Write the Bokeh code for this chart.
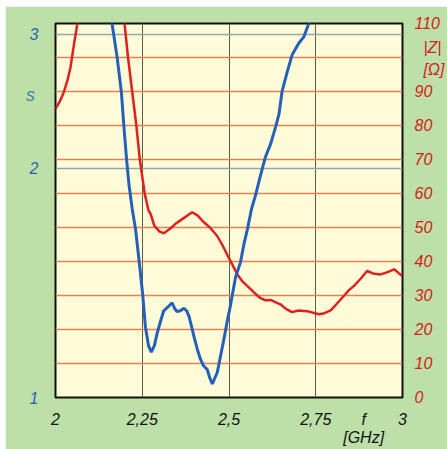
import numpy as np
from bokeh.plotting import figure
from bokeh.models import (Range1d, LinearScale, LinearAxis, FixedTicker, Grid,
                          Label, BasicTickFormatter)
from bokeh.embed import file_html
from bokeh.resources import INLINE

# ---- data ----
# standing wave ratio s (log axis, left)
f_s = [2.160, 2.163, 2.170, 2.178, 2.190, 2.197, 2.205, 2.212, 2.221, 2.231,
       2.241, 2.251, 2.259, 2.268, 2.276, 2.285, 2.293, 2.305, 2.312, 2.324,
       2.336, 2.343, 2.350, 2.360, 2.370, 2.378, 2.385, 2.392, 2.399, 2.408,
       2.418, 2.427, 2.437, 2.445, 2.452, 2.459, 2.466, 2.475, 2.485, 2.495,
       2.504, 2.519, 2.533, 2.543, 2.553, 2.565, 2.576, 2.591, 2.605, 2.620,
       2.634, 2.644, 2.653, 2.668, 2.682, 2.701, 2.716, 2.730, 2.735]
s_vals = [3.20, 3.10, 2.95, 2.79, 2.515, 2.275, 2.05, 1.90, 1.77, 1.66,
          1.51, 1.37, 1.24, 1.17, 1.147, 1.17, 1.215, 1.27, 1.30, 1.315,
          1.332, 1.31, 1.297, 1.30, 1.31, 1.30, 1.277, 1.24, 1.203, 1.16,
          1.122, 1.10, 1.089, 1.06, 1.042, 1.06, 1.078, 1.13, 1.191, 1.26,
          1.32, 1.44, 1.505, 1.59, 1.663, 1.77, 1.84, 1.96, 2.07, 2.154,
          2.264, 2.356, 2.525, 2.68, 2.82, 2.92, 2.98, 3.10, 3.20]

# impedance |Z| in ohm (linear axis, right); NaN = curve above the chart
f_z = [2.000, 2.012, 2.024, 2.035, 2.043, 2.053, 2.060, 2.066, 2.100,
       2.196, 2.199, 2.209, 2.221, 2.233, 2.243, 2.257, 2.268, 2.274, 2.285,
       2.300, 2.312, 2.331, 2.345, 2.360, 2.380, 2.394, 2.410, 2.427, 2.445,
       2.466, 2.480, 2.495, 2.510, 2.524, 2.540, 2.557, 2.572, 2.591, 2.605,
       2.620, 2.635, 2.648, 2.665, 2.682, 2.700, 2.725, 2.740, 2.759, 2.775,
       2.793, 2.810, 2.832, 2.845, 2.861, 2.880, 2.898, 2.915, 2.937, 2.955,
       2.976, 2.990, 3.000]
z_vals = [84.9, 87.0, 89.8, 93.5, 97.0, 103.7, 108.0, 112.0, float("nan"),
          113.0, 110.0, 100.0, 90.0, 80.0, 70.0, 60.0, 55.0, 54.0, 50.5,
          48.8, 48.3, 49.7, 51.0, 52.1, 53.5, 54.5, 53.5, 51.6, 50.0,
          47.5, 45.0, 42.0, 39.0, 36.2, 34.0, 32.4, 30.9, 29.2, 28.6,
          28.7, 28.0, 27.4, 26.0, 25.1, 25.6, 25.4, 25.0, 24.5, 24.8,
          25.6, 27.5, 30.0, 31.5, 32.9, 35.0, 37.2, 36.5, 36.2, 36.8,
          37.7, 36.5, 35.7]

x_ticks = [2, 2.25, 2.5, 2.75, 3]
x_labels = ["2", "2,25", "2,5", "2,75", "3"]
s_ticks = [1, 2, 3]
z_grid = [10, 20, 30, 40, 50, 60, 70, 80, 90, 100]
z_ticks = [0, 10, 20, 30, 40, 50, 60, 70, 80, 90, 110]

# axis titles
x_title = "f\n[GHz]"
z_title = "|Z|"
z_unit = "[Ω]"
s_title = "s"
# where the titles sit (data units of the respective axis)
x_title_at = 2.888
z_title_at = 102.9
z_unit_at = 96.4
s_title_at = (1.928, 2.50)

# ---- style ----
GREEN = "#bde0a8"
PAPER = "#fefcd8"
BLUE = "#2560b8"
RED = "#e0201c"
LBLUE = "#2a62b5"
LRED = "#d41c1c"
FONT = "Liberation Sans"
FS = "16px"
NB = "\u00a0"

p = figure(width=442, height=443, x_range=Range1d(2, 3),
           y_range=Range1d(1, 3.10), y_axis_type="log",
           output_backend="svg", toolbar_location=None,
           margin=(6, 0, 0, 5))
p.extra_y_ranges = {"z": Range1d(0, 110)}
p.extra_y_scales = {"z": LinearScale()}

p.min_border_left = 50
p.min_border_right = 45
p.min_border_top = 17
p.min_border_bottom = 47
p.background_fill_color = PAPER
p.border_fill_color = GREEN
p.outline_line_color = "#111111"
p.outline_line_width = 2

# bottom axis (with the f [GHz] title as an extra labelled position)
xa = p.xaxis[0]
xa.ticker = FixedTicker(ticks=x_ticks + [x_title_at])
ov = {t: l for t, l in zip(x_ticks, x_labels)}
ov[x_title_at] = x_title
xa.major_label_overrides = ov
xa.axis_line_color = None
xa.major_tick_line_color = None
xa.minor_tick_line_color = None
xa.major_label_standoff = 7
xa.major_label_text_font = FONT
xa.major_label_text_font_style = "italic"
xa.major_label_text_font_size = FS
xa.major_label_text_color = "#111111"
xa.major_label_text_line_height = 1.1

# left axis (s, log)
ya = p.yaxis[0]
ya.ticker = FixedTicker(ticks=s_ticks)
ya.formatter = BasicTickFormatter()
ya.axis_line_color = None
ya.major_tick_line_color = None
ya.minor_tick_line_color = None
ya.major_label_standoff = 11
ya.major_label_text_font = FONT
ya.major_label_text_font_style = "italic"
ya.major_label_text_font_size = FS
ya.major_label_text_color = LBLUE

# right axis (|Z|), its title as extra labelled positions
za = LinearAxis(y_range_name="z",
                ticker=FixedTicker(ticks=z_ticks + [z_title_at, z_unit_at]))
za.major_label_overrides = {z_title_at: NB * 2 + z_title,
                            z_unit_at: NB * 2 + z_unit}
za.axis_line_color = None
za.major_tick_line_color = None
za.minor_tick_line_color = None
za.major_label_standoff = 6
za.major_label_text_font = FONT
za.major_label_text_font_style = "italic"
za.major_label_text_font_size = FS
za.major_label_text_color = LRED
p.add_layout(za, "right")

# grids
p.xgrid.ticker = FixedTicker(ticks=x_ticks[1:-1])
p.xgrid.grid_line_color = "#5d5d4a"
p.xgrid.grid_line_width = 1
p.ygrid.ticker = FixedTicker(ticks=s_ticks[1:])
p.ygrid.grid_line_color = "#8fa8b0"
p.ygrid.grid_line_width = 1.5
zg = Grid(dimension=1, ticker=FixedTicker(ticks=z_grid), y_range_name="z",
          grid_line_color="#e57f55", grid_line_width=1.5)
p.add_layout(zg)

# curves
p.line(f_z, z_vals, y_range_name="z", line_color=RED, line_width=2.5)
p.line(f_s, s_vals, line_color=BLUE, line_width=3)

# "s" title in the left panel (side-panel labels are not clipped)
p.add_layout(Label(x=s_title_at[0], y=s_title_at[1], text=s_title,
                   text_color="#3a86a4", text_font=FONT,
                   text_font_style="italic", text_font_size="18px",
                   text_align="center", text_baseline="middle"), "left")

open("out.html", "w").write(file_html(p, INLINE))
